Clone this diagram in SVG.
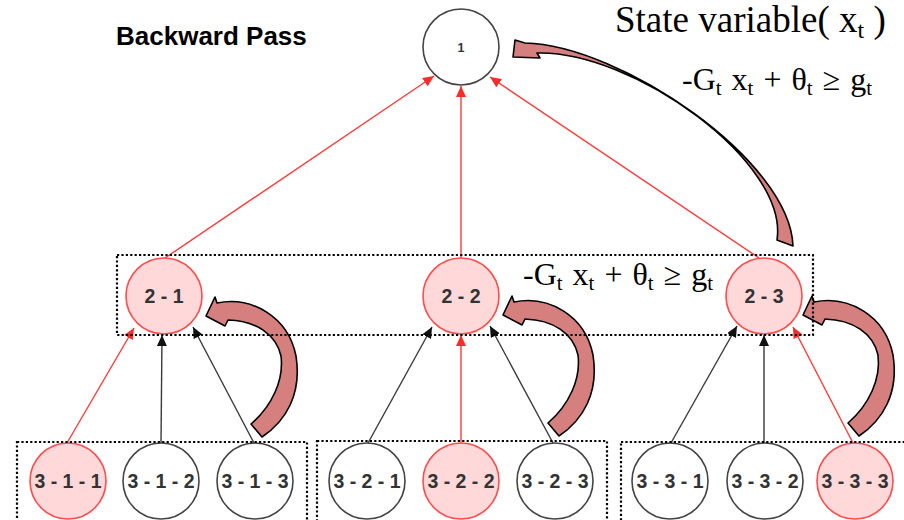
<svg xmlns="http://www.w3.org/2000/svg" xmlns:xlink="http://www.w3.org/1999/xlink" width="904" height="520" viewBox="0 0 904 520">
  <style>
    .edge-red { stroke: #FF3B3B; stroke-width: 1.4; fill: none; }
    .edge-dark { stroke: #3A3A3A; stroke-width: 1.4; fill: none; }
    .node circle { fill: #FFFFFF; stroke: #444444; stroke-width: 1.6; }
    .node.hot circle { fill: #FFD9D9; stroke: #FF4D4D; }
    .lbl { font-family: "Liberation Sans", Arial, sans-serif; font-weight: bold; font-size: 19.5px; fill: #333333; text-anchor: middle; }
    .box { fill: none; stroke: #000000; stroke-width: 2.2; stroke-dasharray: 2.2 2.2; }
    .bend { fill: #D67F7F; stroke: #000000; stroke-width: 1.6; stroke-linejoin: round; }
    .math { font-family: "Liberation Serif", "Times New Roman", serif; fill: #000000; }
    .eq { font-size: 32px; word-spacing: 2px; }
    .sub { font-size: 21px; }
    .title { font-family: "Liberation Sans", Arial, sans-serif; font-weight: bold; font-size: 26px; fill: #000000; }
  </style>
  <defs>
    <marker id="ah-red" markerUnits="userSpaceOnUse" markerWidth="12" markerHeight="10" refX="11" refY="5" orient="auto">
      <path d="M0,0 L11,5 L0,10 Z" fill="#FF2A2A"/>
    </marker>
    <marker id="ah-dark" markerUnits="userSpaceOnUse" markerWidth="12" markerHeight="10" refX="11" refY="5" orient="auto">
      <path d="M0,0 L11,5 L0,10 Z" fill="#111111"/>
    </marker>
    <!-- small curved block arrow, drawn with its tip at the origin -->
    <path id="bend-small" d="M0,0 L9,-19 L11,-13 C45,-20 82,0 90,40 C96,78 80,105 56,121 L45,108 C66,90 78,64 75,40 C70,18 50,5 22,4 L19,10 Z"/>
  </defs>

  <text class="title" x="116" y="45">Backward Pass</text>

  <!-- connectors -->
  <g id="edges">
    <line class="edge-red" x1="165" y1="258" x2="434" y2="76" marker-end="url(#ah-red)"/>
    <line class="edge-red" x1="461" y1="258" x2="461" y2="86" marker-end="url(#ah-red)"/>
    <line class="edge-red" x1="759" y1="258" x2="490" y2="77" marker-end="url(#ah-red)"/>

    <line class="edge-red" x1="67" y1="443" x2="134" y2="328" marker-end="url(#ah-red)"/>
    <line class="edge-dark" x1="161" y1="443" x2="162" y2="335" marker-end="url(#ah-dark)"/>
    <line class="edge-dark" x1="254" y1="443" x2="193" y2="327" marker-end="url(#ah-dark)"/>

    <line class="edge-dark" x1="368" y1="443" x2="432" y2="327" marker-end="url(#ah-dark)"/>
    <line class="edge-red" x1="461" y1="443" x2="461" y2="335" marker-end="url(#ah-red)"/>
    <line class="edge-dark" x1="553" y1="443" x2="490" y2="326" marker-end="url(#ah-dark)"/>

    <line class="edge-dark" x1="671" y1="443" x2="737" y2="326" marker-end="url(#ah-dark)"/>
    <line class="edge-dark" x1="764" y1="443" x2="764" y2="335" marker-end="url(#ah-dark)"/>
    <line class="edge-red" x1="853" y1="443" x2="793" y2="327" marker-end="url(#ah-red)"/>
  </g>

  <!-- nodes -->
  <g id="node-1" class="node">
    <circle cx="461" cy="47" r="38"/>
    <text class="lbl" x="461" y="51.5" style="font-size:12.5px">1</text>
  </g>
  <g id="node-2-1" class="node hot">
    <circle cx="164" cy="296" r="38"/>
    <text class="lbl" x="164" y="302.5">2 - 1</text>
  </g>
  <g id="node-2-2" class="node hot">
    <circle cx="461" cy="296" r="38"/>
    <text class="lbl" x="461" y="302.5">2 - 2</text>
  </g>
  <g id="node-2-3" class="node hot">
    <circle cx="764" cy="296" r="38"/>
    <text class="lbl" x="764" y="302.5">2 - 3</text>
  </g>

  <g id="node-3-1-1" class="node hot">
    <circle cx="68" cy="481" r="38"/>
    <text class="lbl" x="68" y="488">3 - 1 - 1</text>
  </g>
  <g id="node-3-1-2" class="node">
    <circle cx="161" cy="481" r="38"/>
    <text class="lbl" x="161" y="488">3 - 1 - 2</text>
  </g>
  <g id="node-3-1-3" class="node">
    <circle cx="255" cy="481" r="38"/>
    <text class="lbl" x="255" y="488">3 - 1 - 3</text>
  </g>

  <g id="node-3-2-1" class="node">
    <circle cx="367" cy="481" r="38"/>
    <text class="lbl" x="367" y="488">3 - 2 - 1</text>
  </g>
  <g id="node-3-2-2" class="node hot">
    <circle cx="461" cy="481" r="38"/>
    <text class="lbl" x="461" y="488">3 - 2 - 2</text>
  </g>
  <g id="node-3-2-3" class="node">
    <circle cx="555" cy="481" r="38"/>
    <text class="lbl" x="555" y="488">3 - 2 - 3</text>
  </g>

  <g id="node-3-3-1" class="node">
    <circle cx="670" cy="481" r="38"/>
    <text class="lbl" x="670" y="488">3 - 3 - 1</text>
  </g>
  <g id="node-3-3-2" class="node">
    <circle cx="765" cy="481" r="38"/>
    <text class="lbl" x="765" y="488">3 - 3 - 2</text>
  </g>
  <g id="node-3-3-3" class="node hot">
    <circle cx="855" cy="481" r="38"/>
    <text class="lbl" x="855" y="488">3 - 3 - 3</text>
  </g>

  <!-- curved block arrows -->
  <g id="bends">
    <path class="bend" d="M515,40 L513,57 L540,58 L537,53 C632,50 789,162 777,240 L793,246 C790,160 620,45 525,43 Z"/>
    <use xlink:href="#bend-small" class="bend" transform="translate(206,316)"/>
    <use xlink:href="#bend-small" class="bend" transform="translate(503,315)"/>
    <use xlink:href="#bend-small" class="bend" transform="translate(803,315)"/>
  </g>

  <!-- dotted grouping frames -->
  <g id="frames">
    <rect class="box" x="117" y="255" width="696" height="80"/>
    <rect class="box" x="17" y="442" width="290" height="100"/>
    <rect class="box" x="317" y="441" width="290" height="100"/>
    <rect class="box" x="621" y="442" width="300" height="100"/>
  </g>

  <!-- annotations -->
  <text class="math" x="615" y="32" style="font-size:37px">State variable( x<tspan class="sub" style="font-size:24px" dy="6">t</tspan><tspan dy="-6"> )</tspan></text>
  <text class="math eq" x="682" y="90">-G<tspan class="sub" dy="5">t</tspan><tspan dy="-5"> x</tspan><tspan class="sub" dy="5">t</tspan><tspan dy="-5"> + θ</tspan><tspan class="sub" dy="5">t</tspan><tspan dy="-5"> ≥ g</tspan><tspan class="sub" dy="5">t</tspan></text>
  <text class="math eq" x="523" y="285">-G<tspan class="sub" dy="5">t</tspan><tspan dy="-5"> x</tspan><tspan class="sub" dy="5">t</tspan><tspan dy="-5"> + θ</tspan><tspan class="sub" dy="5">t</tspan><tspan dy="-5"> ≥ g</tspan><tspan class="sub" dy="5">t</tspan></text>
</svg>
